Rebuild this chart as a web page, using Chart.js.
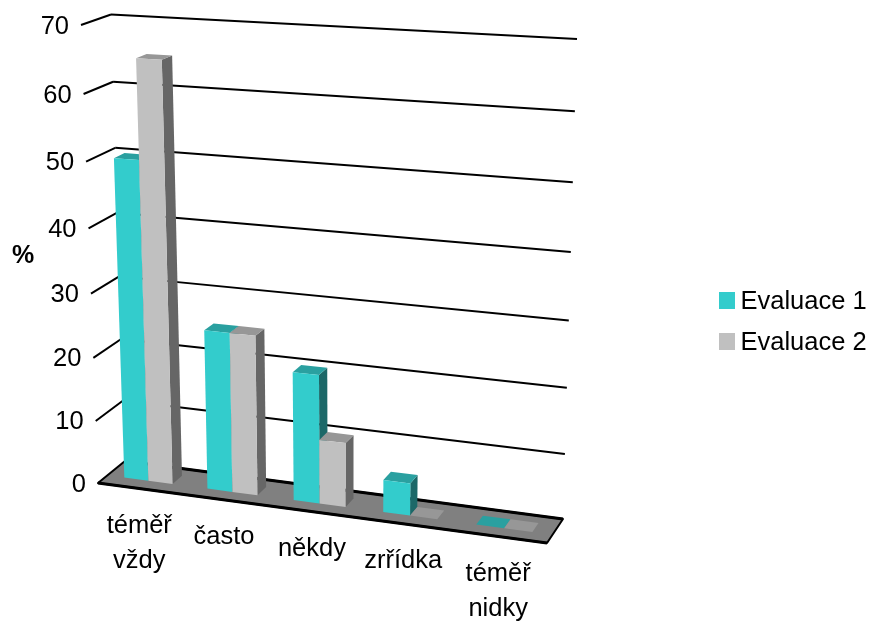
<!DOCTYPE html>
<html>
<head>
<meta charset="utf-8">
<title>Evaluace</title>
<script src="https://cdn.jsdelivr.net/npm/chart.js@4"></script>
<style>
    html, body { margin: 0; padding: 0; background: #fff; }
    canvas { display: block; }
</style>
</head>
<body>
<canvas id="chart" width="870" height="621"></canvas>
<script>
const categories = [['téměř', 'vždy'], 'často', 'někdy', 'zrřídka', ['téměř', 'nidky']]
const evaluace1 = [50, 25, 20, 5, 0]
const evaluace2 = [65, 25, 10, 0, 0]
const tickStep = 10
const tickMax = 70

const FONT = '"Liberation Sans", Arial, sans-serif'

// corners of the box the scales are projected on
const box = {
    floorFrontLeft: [98, 483], floorFrontRight: [547, 543],
    floorBackLeft: [125, 461], floorBackRight: [563, 519],
    topFrontLeft: [81, 25], topFrontRight: [560, 51],
    topBackLeft: [111, 14.5], topBackRight: [577, 39],
}
const BAR_FRONT = 0.35
const BAR_BACK = 0.72
const SKEW_X = -0.09
const SKEW_Y = -0.06

const shades = [
    { front: '#33cccc', top: '#2aa0a0', side: '#1c6868' },
    { front: '#c0c0c0', top: '#979797', side: '#666666' },
]

const lerp = (a, b, t) => [a[0] + (b[0] - a[0]) * t, a[1] + (b[1] - a[1]) * t]
const skew = (t, k) => t * (1 + k) / (1 + k * t)

// u along categories, v up the value axis, w into the depth, all 0..1
function project(u, v, w) {
    const su = skew(u, SKEW_X)
    const sv = skew(v, SKEW_Y)
    const floor = lerp(lerp(box.floorFrontLeft, box.floorFrontRight, su), lerp(box.floorBackLeft, box.floorBackRight, su), w)
    const top = lerp(lerp(box.topFrontLeft, box.topFrontRight, su), lerp(box.topBackLeft, box.topBackRight, su), w)
    return lerp(floor, top, sv)
}

function polygon(ctx, points, fill) {
    ctx.beginPath()
    points.forEach((p, i) => i ? ctx.lineTo(p[0], p[1]) : ctx.moveTo(p[0], p[1]))
    ctx.closePath()
    ctx.fillStyle = fill
    ctx.fill()
}

function line(ctx, a, b) {
    ctx.beginPath()
    ctx.moveTo(a[0], a[1])
    ctx.lineTo(b[0], b[1])
    ctx.stroke()
}

function drawWalls(chart) {
    const { ctx, chartArea, scales } = chart
    ctx.strokeStyle = '#000'
    ctx.lineWidth = 2
    scales.y.ticks.forEach(tick => {
        if (tick.value === 0) return
        const v = (chartArea.bottom - scales.y.getPixelForValue(tick.value)) / chartArea.height
        const corner = project(0, v, 1)
        line(ctx, project(0, v, 0), corner)
        line(ctx, corner, project(1, v, 1))
    })

    const floor = [project(0, 0, 0), project(1, 0, 0), project(1, 0, 1), project(0, 0, 1)]
    polygon(ctx, floor, '#808080')
    ctx.lineJoin = 'round'
    ctx.beginPath()
    floor.forEach((p, i) => i ? ctx.lineTo(p[0], p[1]) : ctx.moveTo(p[0], p[1]))
    ctx.closePath()
    ctx.stroke()
    // the front and back edges read heavier than the sides
    ctx.lineWidth = 3
    line(ctx, floor[0], floor[1])
    line(ctx, floor[2], floor[3])
}

function drawBars(chart) {
    const { ctx, chartArea } = chart
    const toU = x => (x - chartArea.left) / chartArea.width
    const toV = y => (chartArea.bottom - y) / chartArea.height

    categories.forEach((_, index) => {
        chart.data.datasets.forEach((dataset, d) => {
            const bar = chart.getDatasetMeta(d).data[index]
            const u0 = toU(bar.x - bar.width / 2)
            const u1 = toU(bar.x + bar.width / 2)
            const v = toV(bar.y)
            const shade = shades[d]
            polygon(ctx, [project(u1, 0, BAR_FRONT), project(u1, 0, BAR_BACK), project(u1, v, BAR_BACK), project(u1, v, BAR_FRONT)], shade.side)
            polygon(ctx, [project(u0, v, BAR_FRONT), project(u1, v, BAR_FRONT), project(u1, v, BAR_BACK), project(u0, v, BAR_BACK)], shade.top)
            polygon(ctx, [project(u0, 0, BAR_FRONT), project(u1, 0, BAR_FRONT), project(u1, v, BAR_FRONT), project(u0, v, BAR_FRONT)], shade.front)
        })
    })
}

function drawLabels(chart) {
    const { ctx, chartArea, scales } = chart
    ctx.fillStyle = '#000'
    ctx.textBaseline = 'middle'
    ctx.font = '25.5px ' + FONT

    ctx.textAlign = 'right'
    scales.y.ticks.forEach(tick => {
        const v = (chartArea.bottom - scales.y.getPixelForValue(tick.value)) / chartArea.height
        const p = project(0, v, 0)
        ctx.fillText(tick.label, p[0] - 12, p[1] + 1.5)
    })

    ctx.textAlign = 'center'
    scales.x.getLabels().forEach((label, i) => {
        const u = (scales.x.getPixelForValue(i) - chartArea.left) / chartArea.width
        const p = project(u, 0, 0)
        const lines = Array.isArray(label) ? label : [label]
        lines.forEach((text, n) => ctx.fillText(text, p[0], p[1] + 37 + n * 35))
    })

    ctx.font = 'bold 25px ' + FONT
    ctx.fillText(scales.y.options.title.text, 23, 256)
}

function drawLegend(chart) {
    const { ctx } = chart
    ctx.textAlign = 'left'
    ctx.textBaseline = 'middle'
    ctx.font = '25.5px ' + FONT
    chart.data.datasets.forEach((dataset, i) => {
        const y = 300.5 + i * 41
        ctx.fillStyle = dataset.backgroundColor
        ctx.fillRect(719, y - 8.5, 16, 17)
        ctx.fillStyle = '#000'
        ctx.fillText(dataset.label, 740.5, y + 1)
    })
}

const projectedBars = {
    id: 'projectedBars',
    beforeDatasetsDraw(chart) {
        drawWalls(chart)
        drawBars(chart)
        drawLabels(chart)
        drawLegend(chart)
        return false
    },
}

new Chart(document.getElementById('chart'), {
    type: 'bar',
    data: {
        labels: categories,
        datasets: [
            { label: 'Evaluace 1', data: evaluace1, backgroundColor: shades[0].front },
            { label: 'Evaluace 2', data: evaluace2, backgroundColor: shades[1].front },
        ],
    },
    options: {
        responsive: false,
        animation: false,
        categoryPercentage: 0.585,
        barPercentage: 1,
        scales: {
            x: { display: false },
            y: {
                display: false,
                min: 0,
                max: tickMax,
                ticks: { stepSize: tickStep },
                title: { text: '%' },
            },
        },
        plugins: { legend: { display: false }, tooltip: { enabled: false } },
    },
    plugins: [projectedBars],
})
</script>
</body>
</html>
